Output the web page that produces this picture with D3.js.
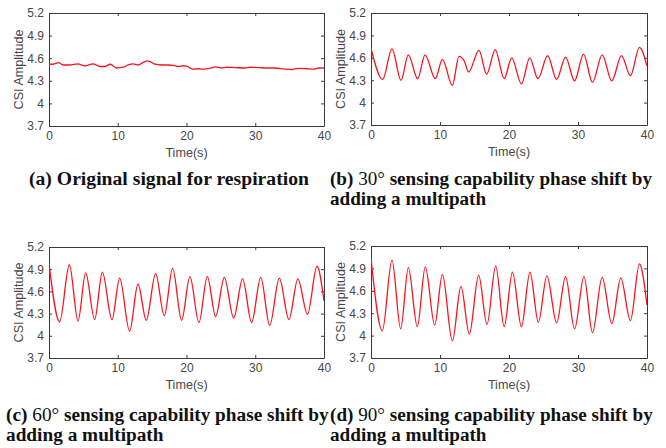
<!DOCTYPE html>
<html>
<head>
<meta charset="utf-8">
<script src="https://cdn.jsdelivr.net/npm/d3@7"></script>
<style>
  html, body { margin: 0; padding: 0; background: #fff; }
  svg { display: block; }
</style>
</head>
<body>
<svg id="chart" width="666" height="448"></svg>
<script>
// ---- Respiration CSI amplitude traces (time in seconds, amplitude) ----
const timeA = [0, 0.58, 1.41, 2.04, 3.0, 4.2, 5.2, 6.4, 7.4, 8.1, 8.94, 9.8, 10.8, 11.5, 12.25, 12.97, 13.7, 14.3, 14.8, 15.4, 16.4, 17.3, 18.3, 18.8, 19.5, 20.0, 20.9, 21.7, 22.4, 23.4, 24.2, 25.1, 25.85, 27.1, 28.5, 29.3, 30.5, 31.9, 32.9, 34.3, 35.3, 36.3, 37.5, 38.5, 39.2, 40];
const ampA  = [4.52, 4.52, 4.54, 4.51, 4.51, 4.525, 4.50, 4.525, 4.49, 4.49, 4.52, 4.47, 4.48, 4.51, 4.525, 4.51, 4.545, 4.565, 4.55, 4.52, 4.51, 4.51, 4.50, 4.49, 4.50, 4.495, 4.455, 4.46, 4.455, 4.465, 4.485, 4.47, 4.48, 4.475, 4.47, 4.48, 4.475, 4.47, 4.47, 4.455, 4.45, 4.465, 4.46, 4.455, 4.47, 4.47];

const timeB = [0, 1.69, 3.04, 4.35, 5.41, 6.76, 7.83, 9.32, 10.34, 11.79, 12.75, 13.5, 14.15, 15.65, 16.76, 18.0, 19.3, 20.4, 21.8, 23.0, 24.2, 25.6, 26.9, 28.2, 29.5, 30.8, 32.1, 33.5, 34.9, 36.3, 37.6, 38.9, 40];
const ampB  = [4.73, 4.31, 4.72, 4.30, 4.64, 4.32, 4.64, 4.32, 4.58, 4.23, 4.62, 4.56, 4.41, 4.70, 4.38, 4.71, 4.32, 4.60, 4.25, 4.60, 4.32, 4.63, 4.31, 4.61, 4.29, 4.65, 4.27, 4.64, 4.29, 4.63, 4.36, 4.74, 4.49];

const timeC = [0, 1.55, 2.96, 4.22, 5.33, 6.64, 7.76, 9.16, 10.28, 11.73, 12.94, 14.15, 15.51, 16.77, 17.98, 19.29, 20.5, 21.81, 23.03, 24.24, 25.5, 26.86, 28.16, 29.47, 30.8, 32.1, 33.5, 34.9, 36.2, 37.6, 38.98, 40];
const ampC  = [4.975, 4.19, 4.96, 4.20, 4.85, 4.22, 4.86, 4.22, 4.78, 4.06, 4.70, 4.21, 4.84, 4.27, 4.91, 4.21, 4.80, 4.18, 4.80, 4.26, 4.79, 4.24, 4.77, 4.18, 4.79, 4.14, 4.78, 4.22, 4.77, 4.29, 4.94, 4.47];

const timeD = [0, 1.64, 3.04, 4.3, 5.41, 6.71, 7.87, 9.23, 10.34, 11.79, 13.04, 14.25, 15.6, 16.81, 18.07, 19.3, 20.5, 21.8, 23.04, 24.25, 25.5, 26.9, 28.2, 29.5, 30.87, 32.1, 33.5, 34.9, 36.2, 37.6, 38.9, 40];
const ampD  = [5.04, 4.065, 5.01, 4.09, 4.91, 4.12, 4.92, 4.14, 4.82, 3.93, 4.66, 4.02, 4.81, 4.15, 4.93, 4.12, 4.85, 4.12, 4.85, 4.18, 4.80, 4.17, 4.79, 4.09, 4.79, 4.04, 4.78, 4.16, 4.77, 4.20, 4.96, 4.41];

// ---- Axis ticks ----
const xTicks = [0, 10, 20, 30, 40];
const xTickLabels = ["0", "10", "20", "30", "40"];
const yTicks = [3.7, 4, 4.3, 4.6, 4.9, 5.2];
const yTickLabels = ["3.7", "4", "4.3", "4.6", "4.9", "5.2"];
const xAxisTitle = "Time(s)";
const yAxisTitle = "CSI Amplitude";

// ---- Sub-figure captions ----
const captionTags   = ["(a)", "(b)", "(c)", "(d)"];
const captionAngles = ["", "30°", "60°", "90°"];
const captionFirst  = ["Original signal for respiration", "sensing capability phase shift by", "sensing capability phase shift by", "sensing capability phase shift by"];
const captionSecond = ["", "adding a multipath", "adding a multipath", "adding a multipath"];

// ---- Layout ----
const panels = [
  { t: timeA, v: ampA, x0: 49,  x1: 324, y0: 13,  y1: 126, cx: 29,  cy: 185, cw: 280 },
  { t: timeB, v: ampB, x0: 371, x1: 647, y0: 13,  y1: 125, cx: 330, cy: 185, cw: 322 },
  { t: timeC, v: ampC, x0: 49,  x1: 324, y0: 247, y1: 358, cx: 6,   cy: 421, cw: 323 },
  { t: timeD, v: ampD, x0: 371, x1: 647, y0: 246, y1: 358, cx: 330, cy: 421, cw: 323 }
];

const axisColor = "#3a3a3a";
const textColor = "#474747";
const lineColor = "#f81420";
const svg = d3.select("#chart");

panels.forEach((p, i) => {
  const x = d3.scaleLinear().domain([0, 40]).range([p.x0, p.x1]);
  const y = d3.scaleLinear().domain([3.7, 5.2]).range([p.y1, p.y0]);
  const g = svg.append("g");

  const clipId = "clip" + i;
  g.append("clipPath").attr("id", clipId)
    .append("rect")
    .attr("x", p.x0).attr("y", p.y0)
    .attr("width", p.x1 - p.x0).attr("height", p.y1 - p.y0);

  // axes: labelled left/bottom, mirrored right/top, ticks pointing inward
  const styleAxis = sel => {
    sel.selectAll("path.domain").attr("stroke", axisColor).attr("stroke-width", 1);
    sel.selectAll(".tick line").attr("stroke", axisColor).attr("stroke-width", 1);
    sel.selectAll(".tick text")
      .attr("fill", textColor)
      .style("font-family", "'Liberation Sans', Arial, sans-serif")
      .style("font-size", "12px");
  };

  g.append("g").attr("transform", `translate(0,${p.y1})`)
    .call(d3.axisBottom(x).tickValues(xTicks).tickFormat((d, k) => xTickLabels[k])
      .tickSizeInner(-3).tickSizeOuter(0).tickPadding(5))
    .call(styleAxis);
  g.append("g").attr("transform", `translate(0,${p.y0})`)
    .call(d3.axisTop(x).tickValues(xTicks).tickFormat("")
      .tickSizeInner(-3).tickSizeOuter(0))
    .call(styleAxis);
  g.append("g").attr("transform", `translate(${p.x0},0)`)
    .call(d3.axisLeft(y).tickValues(yTicks).tickFormat((d, k) => yTickLabels[k])
      .tickSizeInner(-3).tickSizeOuter(0).tickPadding(5))
    .call(styleAxis);
  g.append("g").attr("transform", `translate(${p.x1},0)`)
    .call(d3.axisRight(y).tickValues(yTicks).tickFormat("")
      .tickSizeInner(-3).tickSizeOuter(0))
    .call(styleAxis);

  // amplitude trace
  const line = d3.line()
    .x((d, k) => x(p.t[k]))
    .y(d => y(d))
    .curve(d3.curveMonotoneX);
  g.append("path")
    .datum(p.v)
    .attr("clip-path", `url(#${clipId})`)
    .attr("fill", "none")
    .attr("stroke", lineColor)
    .attr("stroke-width", 1.3)
    .attr("stroke-linejoin", "round")
    .attr("d", line);

  // axis titles
  g.append("text")
    .attr("x", (p.x0 + p.x1) / 2).attr("y", p.y1 + 31)
    .attr("text-anchor", "middle")
    .attr("fill", textColor)
    .style("font-family", "'Liberation Sans', Arial, sans-serif")
    .style("font-size", "12.6px")
    .text(xAxisTitle);
  g.append("text")
    .attr("transform", `translate(${p.x0 - 26},${(p.y0 + p.y1) / 2}) rotate(-90)`)
    .attr("text-anchor", "middle")
    .attr("fill", textColor)
    .style("font-family", "'Liberation Sans', Arial, sans-serif")
    .style("font-size", "12.6px")
    .text(yAxisTitle);

  // caption, sized so the first line spans its column
  const cap = svg.append("g")
    .style("font-family", "'Liberation Serif', 'Times New Roman', serif")
    .attr("fill", "#111");
  const l1 = cap.append("text").attr("x", p.cx).attr("y", p.cy).style("font-size", "16px");
  l1.append("tspan").attr("font-weight", "bold").text(captionTags[i] + " ");
  if (captionAngles[i]) {
    l1.append("tspan").attr("font-weight", "normal").text(captionAngles[i] + " ");
  }
  l1.append("tspan").attr("font-weight", "bold").text(captionFirst[i]);
  const natural = l1.node().getComputedTextLength();
  const fs = 16 * p.cw / natural;
  l1.style("font-size", fs + "px");
  if (captionSecond[i]) {
    cap.append("text").attr("x", p.cx).attr("y", p.cy + 19.8)
      .style("font-size", fs + "px")
      .attr("font-weight", "bold")
      .text(captionSecond[i]);
  }
});
</script>
</body>
</html>
